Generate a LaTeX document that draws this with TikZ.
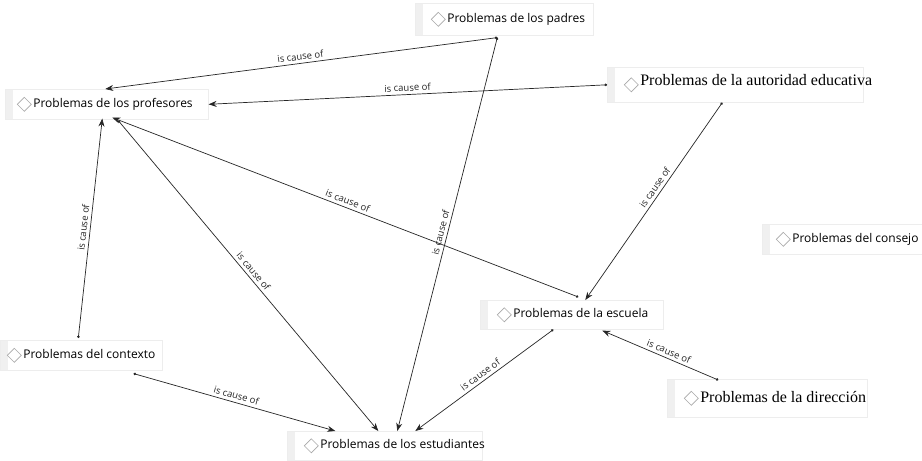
\documentclass[tikz,border=0pt]{standalone}
\usepackage{fontspec}
\setmainfont{Open Sans}
\newfontfamily\serifnode{Liberation Serif}
\usetikzlibrary{arrows.meta}
\definecolor{stripgray}{HTML}{F0F0F0}
\definecolor{boxgray}{HTML}{EDEDED}
\definecolor{dmdgray}{HTML}{A8A8A8}

\tikzset{
  concept/.style n args={3}{anchor=north west, inner sep=0pt, minimum height=#2,
    fill=white, draw=boxgray, line width=0.6pt,
    font=\fontsize{12}{14}\selectfont, text height=9pt, text depth=3pt,
    execute at begin node={\hbox to #1\bgroup\hspace*{#3}},
    execute at end node={\hss\egroup},
    path picture={
      \fill[stripgray] (path picture bounding box.south west) rectangle
        ([xshift=8pt]path picture bounding box.north west);
      \draw[dmdgray, line width=0.7pt] ([xshift=#3-9pt]path picture bounding box.west)
        +(-7pt,0) -- +(0,7pt) -- +(7pt,0) -- +(0,-7pt) -- cycle;
    }},
  serif/.style={font=\serifnode\fontsize{16}{18}\selectfont, text height=12pt, text depth=4pt},
  cause/.style={{Circle[length=2.5pt]}-{Stealth[length=8pt,width=6pt]}, line width=0.7pt, black!85},
  lbl/.style={font=\fontsize{9.5}{10}\selectfont, sloped, above, inner sep=3pt, black!85}
}

\begin{document}
\begin{tikzpicture}[x=1pt,y=-1pt]
  \path[use as bounding box, fill=white] (0,0) rectangle (922,461);

  % concepts
  \node[concept={178pt}{32pt}{32pt}] (padres) at (415,3) {Problemas de los padres};
  \node[concept={256pt}{35pt}{33pt},serif,text depth=10pt] (autoridad) at (607,67) {Problemas de la autoridad educativa};
  \node[concept={203pt}{30pt}{28pt}] (profesores) at (5,89) {Problemas de los profesores};
  \node[concept={160pt}{30pt}{30pt}] (consejo) at (762,224) {Problemas del consejo};
  \node[concept={183pt}{29pt}{33pt}] (escuela) at (480,300) {Problemas de la escuela};
  \node[concept={162pt}{30pt}{23pt}] (contexto) at (0,340) {Problemas del contexto};
  \node[concept={200pt}{38pt}{33pt},serif] (direccion) at (667,379) {Problemas de la dirección};
  \node[concept={195pt}{29pt}{33pt}] (estudiantes) at (287,431) {Problemas de los estudiantes};

  % relations
  \draw[cause] ([xshift=-7pt,yshift=-2pt]padres.south) -- node[lbl]{is cause of} ([xshift=-1.5pt]profesores.north);
  \draw[cause] (autoridad.west) -- node[lbl]{is cause of} (profesores.east);
  \draw[cause] ([xshift=-7pt,yshift=-2pt]padres.south) -- node[lbl]{is cause of} ([xshift=12.5pt]estudiantes.north);
  \draw[cause] ([xshift=-13pt]autoridad.south) -- node[lbl,pos=0.45]{is cause of} ([xshift=13.5pt]escuela.north);
  \draw[cause] ([xshift=6.5pt,yshift=3pt]escuela.north) -- node[lbl]{is cause of} ([xshift=5.5pt,yshift=2pt]profesores.south);
  \draw[cause] ([xshift=11.5pt,yshift=-1pt]profesores.south) -- node[lbl]{is cause of} ([xshift=-6.5pt]estudiantes.north);
  \draw[cause] ([xshift=-3pt,yshift=2pt]contexto.north) -- node[lbl]{is cause of} ([xshift=-4.5pt,yshift=1pt]profesores.south);
  \draw[cause] ([xshift=-29pt,yshift=-3pt]contexto.south east) -- node[lbl]{is cause of} ([xshift=-49.5pt]estudiantes.north);
  \draw[cause] ([xshift=-18.5pt]escuela.south) -- node[lbl]{is cause of} ([xshift=30.5pt]estudiantes.north);
  \draw[cause] ([xshift=-49pt,yshift=-1pt]direccion.north) -- node[lbl,pos=0.45]{is cause of} ([xshift=30.5pt,yshift=-1pt]escuela.south);
\end{tikzpicture}
\end{document}
